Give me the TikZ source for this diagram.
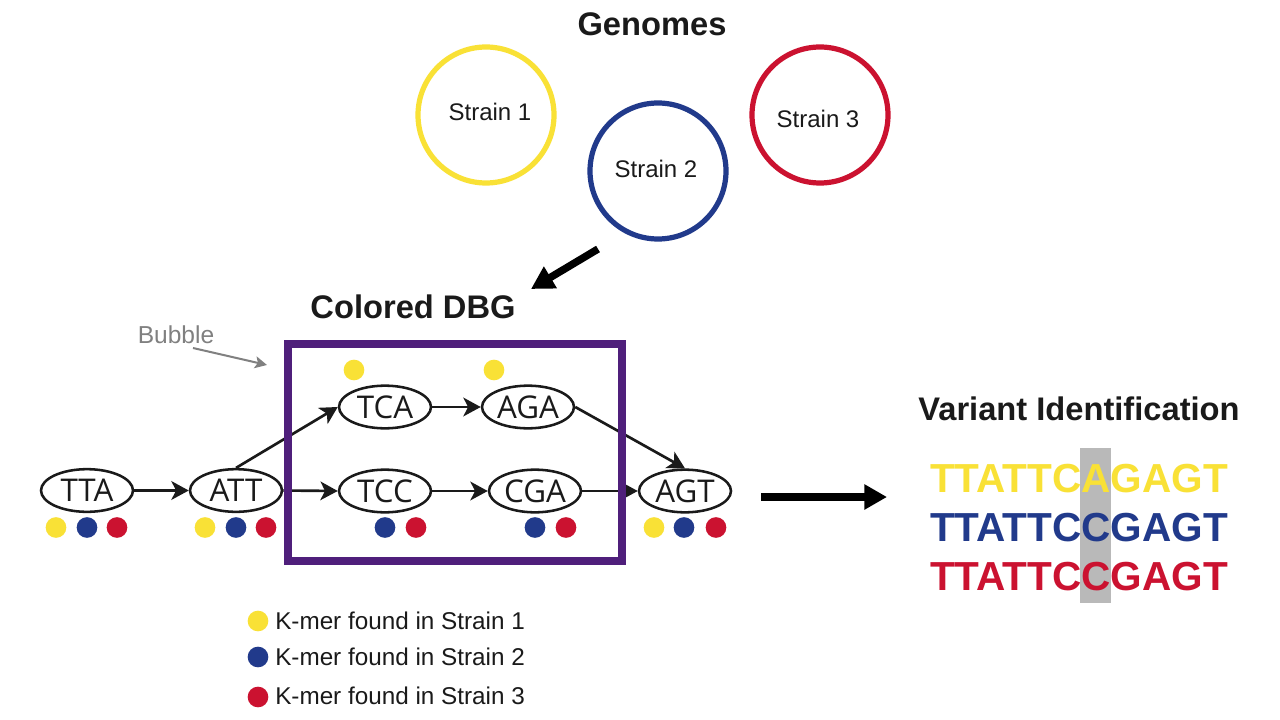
\documentclass[tikz,border=0pt]{standalone}
\usepackage{fontspec}
\setmainfont{Liberation Sans}
\newfontfamily\kmerfont{Open Sans}
\usetikzlibrary{arrows.meta,shapes.geometric}
\definecolor{syel}{HTML}{F9E136}
\definecolor{sblu}{HTML}{213A8B}
\definecolor{sred}{HTML}{CB1230}
\definecolor{spur}{HTML}{4F1F7B}
\definecolor{txt}{HTML}{1A1A1A}
\definecolor{gry}{HTML}{808080}
\tikzset{
  kmer/.style={ellipse,draw=txt,line width=1.9pt,minimum width=69pt,minimum height=32pt,inner sep=0pt,font=\kmerfont\fontsize{23.5}{23.5}\selectfont,text=txt},
  conn/.style={draw=txt,line width=2pt,-{Stealth[length=13pt,width=14pt,inset=3.5pt]}},
  dot/.style={circle,minimum size=15.5pt,inner sep=0pt,fill=#1},
  genome/.style={circle,draw=#1,line width=3.9pt,minimum size=102pt,inner sep=0pt},
  strain/.style={font=\fontsize{18}{18}\selectfont,text=txt},
  head/.style={font=\bfseries\fontsize{24.5}{24.5}\selectfont,text=txt},
  seq/.style={font=\bfseries\fontsize{30.4}{30.4}\selectfont,text=#1},
  legend/.style={font=\fontsize{18.2}{18.2}\selectfont,text=txt,anchor=west,inner sep=0pt},
  bigarrow/.style={draw=black,line width=5.6pt,-{Stealth[length=17pt,width=18pt,inset=0pt]}}
}
\begin{document}
\begin{tikzpicture}[x=0.75pt,y=-0.75pt]
\useasboundingbox (0,0) rectangle (1280,720);
\fill[white] (0,0) rectangle (1280,720);
% titles
\node[head] (tg) at (652,24) {Genomes};
\node[head] (tc) at (413,307) {Colored DBG};
\node[head] (tv) at (1079,409) {Variant Identification};
% genomes
\node[genome=syel] (s1) at (486,115) {};
\node[genome=sblu] (s2) at (658,171) {};
\node[genome=sred] (s3) at (820,115) {};
\node[strain] (l1) at (490,112) {Strain 1};
\node[strain] (l2) at (656,169) {Strain 2};
\node[strain] (l3) at (818,119) {Strain 3};
% big arrows
\coordinate (a1s) at (598,249);
\coordinate (a1e) at (531,289);
\draw[bigarrow] (a1s) -- (a1e);
\coordinate (a2s) at (761,497);
\coordinate (a2e) at (887,497);
\draw[bigarrow] (a2s) -- (a2e);
% kmers
\node[kmer] (tta) at (87,490.5) {TTA};
\node[kmer] (att) at (236,490.5) {ATT};
\node[kmer] (tca) at (385,407) {TCA};
\node[kmer] (aga) at (528,407) {AGA};
\node[kmer] (tcc) at (385,491) {TCC};
\node[kmer] (cga) at (535,491) {CGA};
\node[kmer] (agt) at (685,491) {AGT};
% connectors
\draw[conn] (tta.east) -- (att.west);
\draw[conn] (att.east) -- (tcc.west);
\draw[conn] (att.north) -- (tca.west);
\draw[conn] (tca.east) -- (aga.west);
\draw[conn] (tcc.east) -- (cga.west);
\draw[conn] (cga.east) -- (agt.west);
\draw[conn] (aga.east) -- (agt.north);
% bubble box
\coordinate (bA) at (288,344);
\coordinate (bB) at (622,561);
\draw[spur,line width=5.6pt] (bA) rectangle (bB);
% bubble label
\node[font=\fontsize{18.4}{18.4}\selectfont,text=gry] (bub) at (176,335) {Bubble};
\coordinate (bube) at (267,365);
\coordinate (bubs) at (193,348);
\draw[draw=gry,line width=1.5pt,-{Stealth[length=9pt,width=9pt,inset=2pt]}] (bubs) -- (bube);
% dots
\foreach \n/\x/\y/\c in {d1/56/527.5/syel,d2/87/527.5/sblu,d3/117/527.5/sred,
  d4/205/527.5/syel,d5/236/527.5/sblu,d6/266/527.5/sred,
  d7/354/370/syel,d8/494/370/syel,
  d9/385/527.5/sblu,d10/416/527.5/sred,
  d11/535/527.5/sblu,d12/566/527.5/sred,
  d13/654/527.5/syel,d14/684/527.5/sblu,d15/716/527.5/sred,
  d16/258/621/syel,d17/258/657/sblu,d18/258/697/sred}
  \node[dot=\c] (\n) at (\x,\y) {};
% legend
\node[legend] (k1) at (275,620.5) {K-mer found in Strain 1};
\node[legend] (k2) at (275,656.5) {K-mer found in Strain 2};
\node[legend] (k3) at (275,695.5) {K-mer found in Strain 3};
% variant
\fill[gray!55] (1080,448) rectangle (1111,603);
\node[seq=syel] (v1) at (1079,479) {TTATTCAGAGT};
\node[seq=sblu] (v2) at (1079,528) {TTATTCCGAGT};
\node[seq=sred] (v3) at (1079,577) {TTATTCCGAGT};
\end{tikzpicture}
\end{document}
